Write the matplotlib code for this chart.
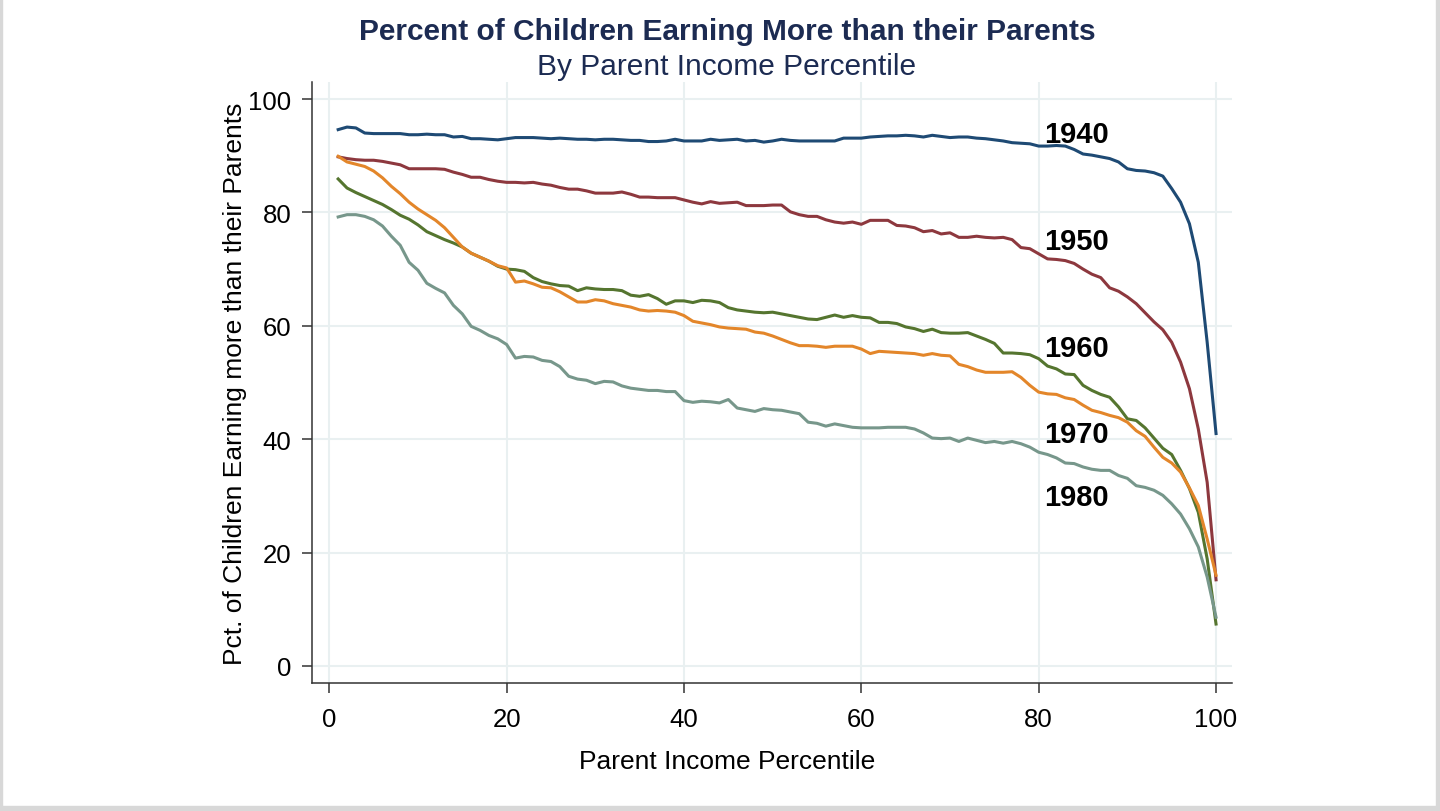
import numpy as np
import matplotlib
matplotlib.use("Agg")
import matplotlib.pyplot as plt
from matplotlib.patches import Rectangle

# parent income percentile 1..100
percentile = list(range(1, 101))

y1940 = [94.6, 95.05, 94.9, 94.0, 93.9, 93.9, 93.9, 93.9, 93.7, 93.7,
         93.8, 93.7, 93.7, 93.3, 93.4, 93.0, 93.0, 92.9, 92.8, 93.0,
         93.2, 93.2, 93.2, 93.1, 93.0, 93.1, 93.0, 92.9, 92.9, 92.8,
         92.9, 92.9, 92.8, 92.7, 92.7, 92.5, 92.5, 92.6, 92.9, 92.6,
         92.6, 92.6, 92.9, 92.7, 92.8, 92.9, 92.6, 92.7, 92.4, 92.6,
         92.9, 92.7, 92.6, 92.6, 92.6, 92.6, 92.6, 93.1, 93.1, 93.1,
         93.3, 93.4, 93.5, 93.5, 93.6, 93.5, 93.3, 93.6, 93.4, 93.2,
         93.3, 93.3, 93.1, 93.0, 92.8, 92.6, 92.3, 92.2, 92.1, 91.7,
         91.7, 91.8, 91.7, 91.1, 90.3, 90.1, 89.8, 89.5, 88.9, 87.7,
         87.4, 87.3, 87.0, 86.4, 84.2, 81.8, 78.0, 71.2, 57.1, 41.0]

y1950 = [89.8, 89.5, 89.3, 89.2, 89.2, 89.0, 88.7, 88.4, 87.7, 87.7,
         87.7, 87.7, 87.6, 87.1, 86.7, 86.2, 86.2, 85.8, 85.5, 85.3,
         85.3, 85.2, 85.3, 85.0, 84.8, 84.4, 84.1, 84.1, 83.8, 83.4,
         83.4, 83.4, 83.6, 83.2, 82.7, 82.7, 82.6, 82.6, 82.6, 82.2,
         81.8, 81.5, 81.9, 81.6, 81.7, 81.8, 81.2, 81.2, 81.2, 81.3,
         81.3, 80.1, 79.6, 79.3, 79.3, 78.7, 78.3, 78.1, 78.3, 77.9,
         78.6, 78.6, 78.6, 77.7, 77.6, 77.3, 76.6, 76.8, 76.2, 76.4,
         75.6, 75.6, 75.8, 75.6, 75.5, 75.6, 75.2, 73.8, 73.6, 72.7,
         71.8, 71.7, 71.5, 71.0, 70.0, 69.1, 68.5, 66.7, 66.1, 65.1,
         63.9, 62.3, 60.7, 59.3, 57.1, 53.6, 48.9, 41.8, 32.4, 15.2]

y1960 = [85.9, 84.3, 83.5, 82.8, 82.1, 81.4, 80.5, 79.5, 78.8, 77.8,
         76.6, 75.9, 75.2, 74.6, 73.9, 72.8, 72.1, 71.4, 70.5, 70.0,
         69.9, 69.6, 68.5, 67.8, 67.4, 67.1, 67.0, 66.2, 66.7, 66.5,
         66.4, 66.4, 66.2, 65.4, 65.2, 65.5, 64.8, 63.8, 64.4, 64.4,
         64.1, 64.5, 64.4, 64.1, 63.2, 62.8, 62.6, 62.4, 62.3, 62.4,
         62.1, 61.8, 61.5, 61.2, 61.1, 61.5, 61.9, 61.5, 61.8, 61.5,
         61.4, 60.6, 60.6, 60.4, 59.8, 59.5, 59.0, 59.4, 58.8, 58.7,
         58.7, 58.8, 58.2, 57.6, 56.9, 55.2, 55.2, 55.1, 54.9, 54.2,
         52.9, 52.4, 51.5, 51.4, 49.5, 48.6, 47.9, 47.4, 45.7, 43.6,
         43.3, 42.0, 40.2, 38.4, 37.3, 34.5, 31.3, 27.1, 18.9, 7.4]

y1970 = [89.9, 88.9, 88.5, 88.1, 87.3, 86.1, 84.6, 83.3, 81.8, 80.6,
         79.6, 78.6, 77.3, 75.6, 73.9, 72.8, 72.1, 71.4, 70.6, 70.2,
         67.7, 67.9, 67.4, 66.8, 66.7, 66.0, 65.1, 64.2, 64.2, 64.6,
         64.4, 63.9, 63.6, 63.3, 62.8, 62.6, 62.7, 62.6, 62.4, 61.8,
         60.8, 60.5, 60.2, 59.8, 59.6, 59.5, 59.4, 58.9, 58.7, 58.2,
         57.6, 57.0, 56.5, 56.5, 56.4, 56.2, 56.4, 56.4, 56.4, 55.9,
         55.1, 55.5, 55.4, 55.3, 55.2, 55.1, 54.8, 55.1, 54.8, 54.7,
         53.2, 52.8, 52.2, 51.8, 51.8, 51.8, 51.9, 50.9, 49.5, 48.3,
         48.0, 47.9, 47.3, 47.0, 46.0, 45.1, 44.7, 44.2, 43.8, 43.0,
         41.5, 40.5, 38.6, 36.8, 35.8, 34.2, 31.4, 28.3, 22.4, 16.0]

y1980 = [79.2, 79.6, 79.6, 79.3, 78.7, 77.6, 75.8, 74.2, 71.2, 69.8,
         67.5, 66.6, 65.8, 63.6, 62.1, 59.9, 59.2, 58.3, 57.7, 56.7,
         54.3, 54.6, 54.5, 53.9, 53.7, 52.8, 51.1, 50.6, 50.4, 49.8,
         50.2, 50.1, 49.4, 49.0, 48.8, 48.6, 48.6, 48.4, 48.4, 46.8,
         46.5, 46.7, 46.6, 46.4, 47.0, 45.5, 45.2, 44.9, 45.4, 45.2,
         45.1, 44.8, 44.5, 43.0, 42.8, 42.3, 42.7, 42.4, 42.1, 42.0,
         42.0, 42.0, 42.1, 42.1, 42.1, 41.8, 41.1, 40.2, 40.1, 40.2,
         39.6, 40.2, 39.8, 39.4, 39.6, 39.3, 39.6, 39.2, 38.6, 37.7,
         37.3, 36.7, 35.8, 35.7, 35.1, 34.7, 34.5, 34.5, 33.6, 33.1,
         31.8, 31.5, 31.0, 30.1, 28.6, 26.8, 24.2, 21.0, 15.7, 8.6]

cohorts = ["1940", "1950", "1960", "1970", "1980"]
series = [y1940, y1950, y1960, y1970, y1980]
colors = ["#1e4a74", "#8d383e", "#55752f", "#e3862a", "#77978b"]
label_pos = [93.9, 74.9, 56.0, 40.9, 29.8]

plt.rcParams["font.family"] = ["Liberation Sans", "DejaVu Sans"]

fig = plt.figure(figsize=(14.4, 8.12), dpi=100)
ax = fig.add_axes([312 / 1440, 1 - 684 / 812, 920 / 1440, 601 / 812])

for name, vals, col in zip(cohorts, series, colors):
    ax.plot(percentile, vals, color=col, lw=2.2, zorder=3)

for name, ypos in zip(cohorts, label_pos):
    ax.text(80.6, ypos, name, fontsize=21, fontweight="bold", color="black",
            ha="left", va="center", zorder=4)

ax.set_xlim(-1.95, 101.8)
ax.set_ylim(-3, 103)
ax.set_xticks([0, 20, 40, 60, 80, 100])
ax.set_yticks([0, 20, 40, 60, 80, 100])
ax.grid(True, color="#e9f0f1", lw=1.5, zorder=0)
ax.set_axisbelow(True)

for s in ["top", "right"]:
    ax.spines[s].set_visible(False)
for s in ["left", "bottom"]:
    ax.spines[s].set_color("#333333")
    ax.spines[s].set_linewidth(1.1)

ax.tick_params(axis="both", direction="out", length=7, width=1.1,
               color="#333333", labelsize=18.5, labelcolor="black")
ax.tick_params(axis="x", pad=10)
ax.tick_params(axis="y", pad=8)

ax.set_xlabel("Parent Income Percentile", fontsize=19)
ax.set_ylabel("Pct. of Children Earning more than their Parents", fontsize=19)
ax.xaxis.set_label_coords(0.451, -0.11)
ax.yaxis.set_label_coords(-0.071, 0.5)

fig.text(727 / 1440, 1 - 32 / 812, "Percent of Children Earning More than their Parents",
         fontsize=21.5, fontweight="bold", color="#1c2b52", ha="center", va="center")
fig.text(727 / 1440, 1 - 67 / 812, "By Parent Income Percentile",
         fontsize=21.5, color="#1c2b52", ha="center", va="center")

# light grey window frame
fig.patches.append(Rectangle((0, 0), 2 / 1440, 1, transform=fig.transFigure,
                             color="#d8d8d8", zorder=0))
fig.patches.append(Rectangle((1 - 4 / 1440, 0), 4 / 1440, 1, transform=fig.transFigure,
                             color="#d8d8d8", zorder=0))
fig.patches.append(Rectangle((0, 0), 1, 5 / 812, transform=fig.transFigure,
                             color="#d8d8d8", zorder=0))

fig.savefig("out.png", dpi=100)
